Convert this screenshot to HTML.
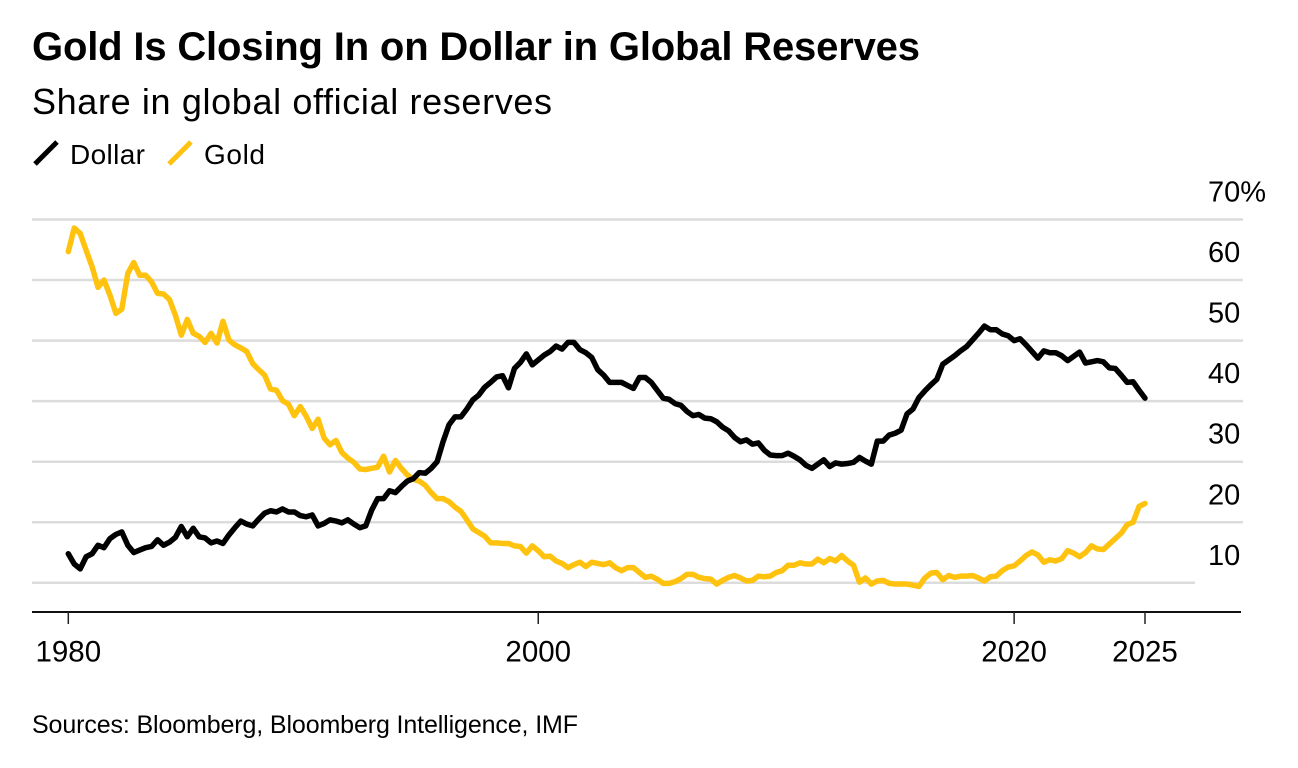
<!DOCTYPE html>
<html lang="en">
<head>
<meta charset="utf-8">
<title>Gold Is Closing In on Dollar in Global Reserves</title>
<style>
  html, body { margin: 0; padding: 0; background: #ffffff; }
  body { width: 1298px; height: 768px; overflow: hidden; }
  svg { display: block; font-family: "Liberation Sans", sans-serif; }
  text { fill: #000000; }
</style>
</head>
<body>
<svg id="chart" xmlns="http://www.w3.org/2000/svg" width="1298" height="768" viewBox="0 0 1298 768">
  <rect x="0" y="0" width="1298" height="768" fill="#ffffff"/>
  <text x="32" y="60" font-size="40" font-weight="700" textLength="888" lengthAdjust="spacing">Gold Is Closing In on Dollar in Global Reserves</text>
  <text x="32" y="114" font-size="36" textLength="520" lengthAdjust="spacing">Share in global official reserves</text>
  <line x1="35" y1="164" x2="57" y2="142" stroke="#000000" stroke-width="5"/>
  <text x="70" y="164" font-size="28" textLength="75" lengthAdjust="spacing">Dollar</text>
  <line x1="169" y1="164" x2="191" y2="142" stroke="#ffc20e" stroke-width="5"/>
  <text x="204" y="164" font-size="28" textLength="61" lengthAdjust="spacing">Gold</text>
  <g id="grid"></g>
  <g id="y-labels"></g>
  <g id="series"></g>
  <line x1="32" y1="612" x2="1241" y2="612" stroke="#111111" stroke-width="2"/>
  <g id="x-ticks"></g>
  <text x="32" y="733" font-size="25" textLength="546" lengthAdjust="spacing">Sources: Bloomberg, Bloomberg Intelligence, IMF</text>
</svg>
<script>
const dollarShare = [
  14.8,13.1,12.3,14.3,14.8,16.2,15.8,17.3,18.0,18.4,16.2,15.0,15.4,15.8,16.0,17.1,16.2,16.7,17.5,19.3,
  17.6,19.0,17.6,17.4,16.6,16.9,16.5,17.9,19.1,20.2,19.7,19.4,20.5,21.5,21.9,21.7,22.2,21.7,21.7,21.1,
  20.9,21.2,19.4,19.8,20.4,20.2,19.9,20.4,19.7,19.1,19.4,22.0,23.9,23.9,25.2,24.9,25.9,26.8,27.2,28.2,
  28.1,28.9,30.0,33.3,36.1,37.4,37.4,38.7,40.2,41.0,42.3,43.1,44.0,44.2,42.2,45.4,46.4,47.8,46.0,46.8,
  47.6,48.2,49.1,48.6,49.7,49.7,48.5,48.0,47.2,45.2,44.3,43.1,43.1,43.1,42.6,42.1,43.9,43.9,43.1,41.8,
  40.5,40.3,39.6,39.3,38.3,37.6,37.8,37.2,37.1,36.6,35.7,35.1,34.0,33.3,33.6,32.9,33.1,31.9,31.1,31.0,
  31.0,31.4,30.9,30.3,29.4,28.9,29.6,30.3,29.2,29.8,29.6,29.7,29.9,30.7,30.1,29.6,33.4,33.4,34.4,34.7,
  35.2,37.9,38.7,40.6,41.7,42.7,43.6,46.1,46.8,47.5,48.3,49.0,50.1,51.2,52.4,51.8,51.8,51.1,50.8,50.0,
  50.3,49.3,48.2,47.1,48.3,48.0,48.0,47.5,46.7,47.4,48.1,46.3,46.5,46.7,46.5,45.5,45.4,44.3,43.1,43.2,
  41.8,40.5
];
const goldShare = [
  64.7,68.6,67.7,64.9,62.2,58.8,60.0,57.5,54.5,55.2,61.1,62.9,60.8,60.8,59.7,57.8,57.7,56.8,54.2,50.9,
  53.5,51.2,50.7,49.7,51.2,49.6,53.2,50.1,49.3,48.8,48.2,46.2,45.2,44.3,42.0,41.8,40.1,39.5,37.6,39.1,
  37.5,35.5,37.0,33.9,32.8,33.5,31.5,30.6,29.9,28.8,28.7,28.9,29.1,30.9,28.3,30.2,28.9,27.8,27.1,26.8,
  26.1,24.9,23.9,23.9,23.4,22.5,21.8,20.4,18.9,18.3,17.7,16.6,16.6,16.5,16.5,16.1,16.0,14.9,16.1,15.3,
  14.3,14.4,13.6,13.2,12.5,13.0,13.4,12.7,13.4,13.2,13.0,13.3,12.5,12.0,12.5,12.5,11.7,10.9,11.1,10.6,
  9.9,9.9,10.2,10.7,11.4,11.4,10.9,10.7,10.6,9.8,10.4,10.9,11.2,10.8,10.3,10.4,11.1,11.0,11.1,11.7,
  12.0,12.9,12.9,13.3,13.1,13.1,13.9,13.3,14.0,13.6,14.5,13.6,12.9,10.1,10.8,9.8,10.3,10.4,9.9,9.8,
  9.8,9.8,9.6,9.4,10.8,11.6,11.7,10.5,11.2,10.9,11.1,11.1,11.2,10.8,10.3,11.0,11.1,12.0,12.6,12.8,
  13.6,14.5,15.1,14.6,13.4,13.8,13.6,14.0,15.3,14.9,14.3,15.0,16.1,15.6,15.5,16.4,17.3,18.2,19.6,20.0,
  22.6,23.1
];
const yTickValues = [10, 20, 30, 40, 50, 60, 70];
const xTickLabels = ["1980", "2000", "2020", "2025"];
const xTickPeriods = [0, 79, 159, 181];

const SVG_NS = "http://www.w3.org/2000/svg";
const periodCount = dollarShare.length;

function xScale(period) {
  return 68.3 + (period / (periodCount - 1)) * (1145 - 68.3);
}
function yScale(value) {
  return 582.8 - (value - 10) * 6.055;
}
function make(tag, parent) {
  const el = document.createElementNS(SVG_NS, tag);
  parent.appendChild(el);
  return el;
}
function linePath(values) {
  return values.map(function (v, i) {
    return (i === 0 ? "M" : "L") + xScale(i).toFixed(2) + " " + yScale(v).toFixed(2);
  }).join(" ");
}

const gridGroup = document.getElementById("grid");
const yLabelGroup = document.getElementById("y-labels");
yTickValues.forEach(function (value) {
  const gridline = make("line", gridGroup);
  
  
  gridline.setAttribute("x1", 32);
  gridline.setAttribute("x2", value === yTickValues[0] ? 1195 : 1243);
  gridline.setAttribute("y1", yScale(value));
  gridline.setAttribute("y2", yScale(value));
  gridline.setAttribute("stroke", "#dcdcdc");
  gridline.setAttribute("stroke-width", 2.5);

  const label = make("text", yLabelGroup);
  
  
  label.setAttribute("x", 1208);
  label.setAttribute("y", yScale(value) - 18);
  label.setAttribute("font-size", 29);
  label.textContent = value === yTickValues[yTickValues.length - 1] ? value + "%" : String(value);
});

const seriesGroup = document.getElementById("series");

const goldLine = make("path", seriesGroup);


goldLine.setAttribute("d", linePath(goldShare));
goldLine.setAttribute("fill", "none");
goldLine.setAttribute("stroke", "#ffc20e");
goldLine.setAttribute("stroke-width", 5.5);
goldLine.setAttribute("stroke-linejoin", "round");
goldLine.setAttribute("stroke-linecap", "round");

const dollarLine = make("path", seriesGroup);


dollarLine.setAttribute("d", linePath(dollarShare));
dollarLine.setAttribute("fill", "none");
dollarLine.setAttribute("stroke", "#000000");
dollarLine.setAttribute("stroke-width", 5.5);
dollarLine.setAttribute("stroke-linejoin", "round");
dollarLine.setAttribute("stroke-linecap", "round");

const xTickGroup = document.getElementById("x-ticks");
xTickPeriods.forEach(function (period, i) {
  const tick = make("line", xTickGroup);
  
  
  tick.setAttribute("x1", xScale(period));
  tick.setAttribute("x2", xScale(period));
  tick.setAttribute("y1", 612);
  tick.setAttribute("y2", 624);
  tick.setAttribute("stroke", "#222222");
  tick.setAttribute("stroke-width", 1.5);

  const label = make("text", xTickGroup);
  
  
  label.setAttribute("x", xScale(period));
  label.setAttribute("y", 661.5);
  label.setAttribute("font-size", 29.5);
  label.setAttribute("text-anchor", "middle");
  label.textContent = xTickLabels[i];
});
</script>
</body>
</html>
